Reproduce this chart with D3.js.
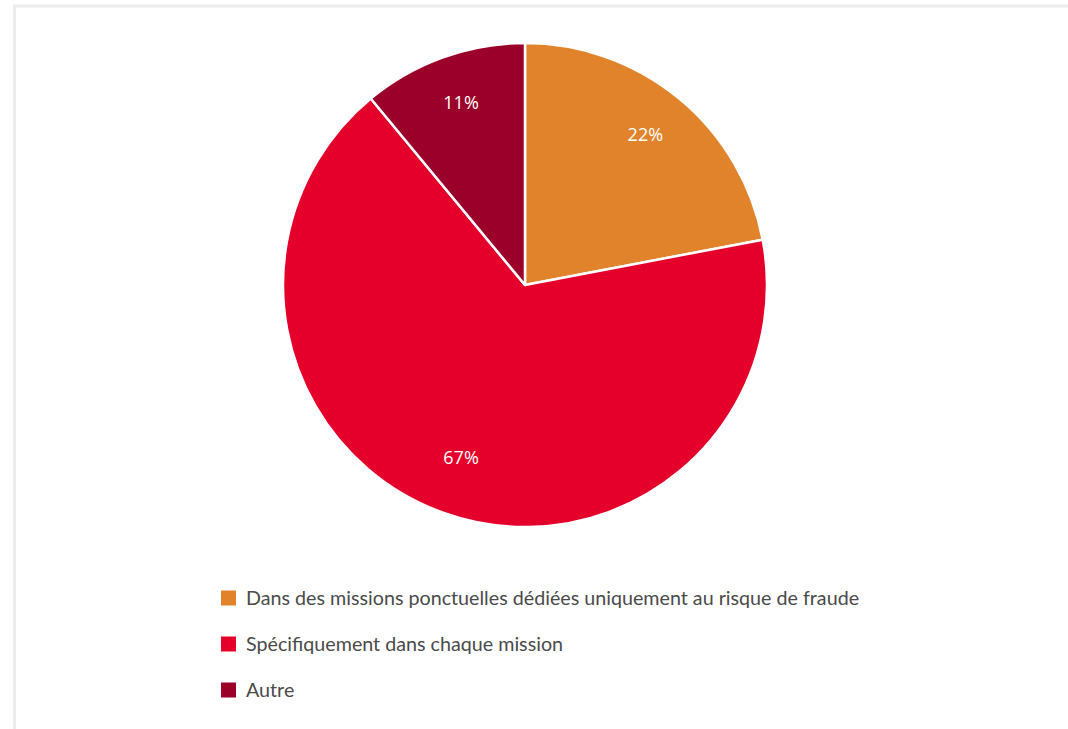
<!DOCTYPE html>
<html>
<head>
<meta charset="utf-8">
<script src="https://cdn.jsdelivr.net/npm/d3@7"></script>
<style>
  html, body { margin: 0; padding: 0; background: #ffffff; }
  svg { display: block; }
</style>
</head>
<body>
<svg id="chart" width="1068" height="729"></svg>
<script>
// Répartition des réponses
const categories = [
  "Dans des missions ponctuelles dédiées uniquement au risque de fraude",
  "Spécifiquement dans chaque mission",
  "Autre"
];
const values = [22, 67, 11];
const valueLabels = ["22%", "67%", "11%"];
const colors = ["#e0832a", "#e4002b", "#9a0029"];

const svg = d3.select("#chart");
const W = 1068, H = 729;

// Cadre gris clair (haut et gauche)
svg.append("rect").attr("x", 0).attr("y", 0).attr("width", W).attr("height", H).attr("fill", "#fff");
svg.append("line").attr("x1", 13).attr("x2", W).attr("y1", 6).attr("y2", 6)
  .attr("stroke", "#ebebeb").attr("stroke-width", 3);
svg.append("line").attr("x1", 14.5).attr("x2", 14.5).attr("y1", 5).attr("y2", H)
  .attr("stroke", "#ebebeb").attr("stroke-width", 3);

const cx = 525, cy = 285, radius = 242;

const data = categories.map((c, i) => ({ name: c, value: values[i], label: valueLabels[i], color: colors[i] }));

const pie = d3.pie().value(d => d.value).sort(null);
const arc = d3.arc().innerRadius(0).outerRadius(radius);
const labelArc = d3.arc().innerRadius(radius * 0.78).outerRadius(radius * 0.78);

const g = svg.append("g").attr("transform", `translate(${cx},${cy})`);
const arcs = pie(data);

g.selectAll("path.slice")
  .data(arcs)
  .join("path")
  .attr("class", "slice")
  .attr("d", arc)
  .attr("fill", d => d.data.color)
  .attr("stroke", "#ffffff")
  .attr("stroke-width", 2.5)
  .attr("stroke-linejoin", "round");

g.selectAll("text.val")
  .data(arcs)
  .join("text")
  .attr("class", "val")
  .attr("transform", d => `translate(${labelArc.centroid(d)})`)
  .attr("text-anchor", "middle")
  .attr("dy", "0.1em")
  .attr("fill", "#ffffff")
  .style("font-family", "'Open Sans', 'Noto Sans', sans-serif")
  .style("font-size", "18px")
  .text(d => d.data.label);

// Légende
const legend = svg.append("g").attr("transform", "translate(221,598)");
const rowH = 46;
const items = legend.selectAll("g.item")
  .data(data)
  .join("g")
  .attr("class", "item")
  .attr("transform", (d, i) => `translate(0,${i * rowH})`);

items.append("rect")
  .attr("x", 0).attr("y", -7.5)
  .attr("width", 15).attr("height", 15)
  .attr("fill", d => d.color);

items.append("text")
  .attr("x", 25)
  .attr("y", 0)
  .attr("dy", "0.35em")
  .attr("fill", "#4a4a4a")
  .style("font-family", "Lato, 'Open Sans', sans-serif")
  .style("font-size", "19.7px")
  .text(d => d.name);
</script>
</body>
</html>
